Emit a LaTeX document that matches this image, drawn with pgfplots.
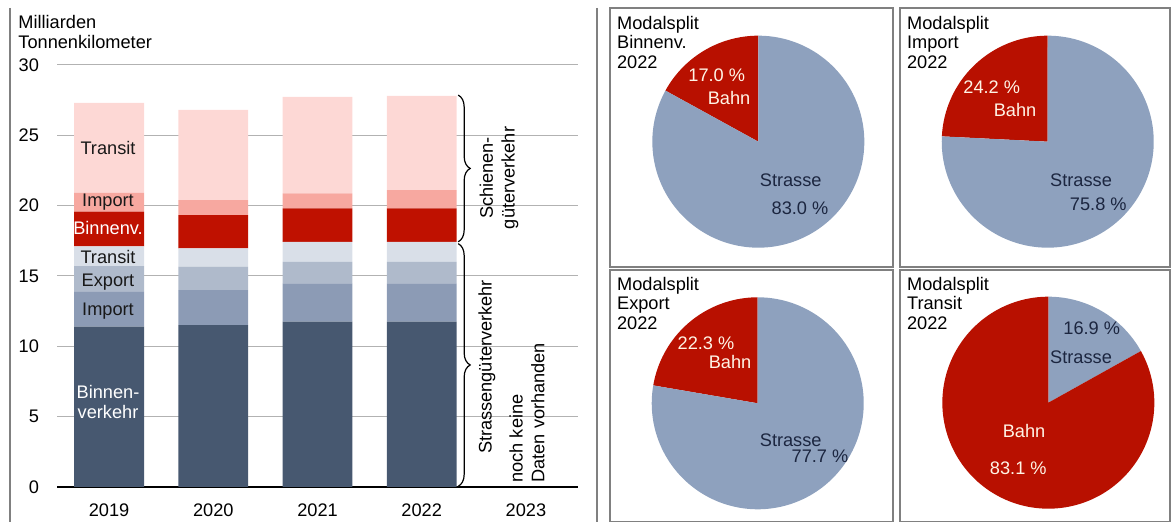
\documentclass[border=0pt]{standalone}
\usepackage{fontspec}
\setmainfont{Liberation Sans}
\usepackage{pgfplots}
\pgfplotsset{compat=1.18}
\usetikzlibrary{decorations.pathreplacing}

\definecolor{cRoadB}{HTML}{475870}
\definecolor{cRoadI}{HTML}{8C9BB5}
\definecolor{cRoadE}{HTML}{AFBACB}
\definecolor{cRoadT}{HTML}{D9DFE8}
\definecolor{cRailB}{HTML}{BF1100}
\definecolor{cRailI}{HTML}{F7A8A0}
\definecolor{cRailT}{HTML}{FDD8D5}
\definecolor{cPieRoad}{HTML}{8EA1BE}
\definecolor{cPieRail}{HTML}{B81000}
\definecolor{cNavy}{HTML}{1C2640}
\definecolor{cLight}{HTML}{FFF4E6}
\definecolor{cFrame}{HTML}{808080}

\begin{document}
\begin{tikzpicture}[x=0.5bp, y=0.5bp, font=\fontsize{9.1bp}{10.8bp}\selectfont]
\path[use as bounding box] (0,0) rectangle (1171,522);

% frames
\draw[cFrame, line width=0.6bp] (10,514) -- (10,0);
\draw[cFrame, line width=0.6bp] (597,514) -- (597,0);
\draw[cFrame, line width=0.6bp] (610,255) rectangle (893,514);
\draw[cFrame, line width=0.6bp] (900,255) rectangle (1170,514);
\draw[cFrame, line width=0.6bp] (610,0.5) rectangle (893,252);
\draw[cFrame, line width=0.6bp] (900,0.5) rectangle (1170,252);

% ---------- stacked bars ----------
\begin{axis}[
  at={(28.5bp,17.5bp)}, anchor=south west,
  width=260.5bp, height=211bp, scale only axis,
  ybar stacked, bar width=0.67,
  xmin=-0.5, xmax=4.5, ymin=0, ymax=30,
  xtick={0,1,2,3,4}, xticklabels={2019,2020,2021,2022,2023},
  ytick={0,5,10,15,20,25,30},
  axis line style={draw=none}, major tick length=0pt,
  ymajorgrids, grid style={black!30, line width=0.5bp},
  yticklabel style={xshift=-5.5bp},
  xticklabel style={yshift=-5bp},
  /pgf/number format/assume math mode=true,
  clip=false,
]
% Strasse
\addplot[fill=cRoadB, draw=none] coordinates {(0,11.4) (1,11.5) (2,11.75) (3,11.75)};
\addplot[fill=cRoadI, draw=none] coordinates {(0,2.5) (1,2.5) (2,2.73) (3,2.73)};
\addplot[fill=cRoadE, draw=none] coordinates {(0,1.8) (1,1.66) (2,1.52) (3,1.52)};
\addplot[fill=cRoadT, draw=none] coordinates {(0,1.4) (1,1.3) (2,1.43) (3,1.43)};
% Schiene
\addplot[fill=cRailB, draw=none] coordinates {(0,2.47) (1,2.37) (2,2.37) (3,2.37)};
\addplot[fill=cRailI, draw=none] coordinates {(0,1.33) (1,1.07) (2,1.07) (3,1.3)};
\addplot[fill=cRailT, draw=none] coordinates {(0,6.4) (1,6.4) (2,6.87) (3,6.7)};

\draw[black, line width=0.8bp] (axis cs:-0.5,0) -- (axis cs:4.5,0);

\draw[black, line width=0.6bp, decorate, decoration={brace, amplitude=6bp}]
  (axis cs:3.35,27.86) -- (axis cs:3.35,17.43);
\draw[black, line width=0.6bp, decorate, decoration={brace, amplitude=6bp}]
  (axis cs:3.35,17.3) -- (axis cs:3.35,0.05);
\end{axis}

% labels on the 2019 bar
\node[black!90] at (108,374) {Transit};
\node[black!90] at (108,320) {Import};
\node[white] at (108,294) {Binnenv.};
\node[black!90] at (108,265) {Transit};
\node[black!90] at (108,240) {Export};
\node[black!90] at (108,211) {Import};
\node[white, align=center, font=\fontsize{9.1bp}{9.8bp}\selectfont] at (108,120) {Binnen-\\verkehr};

\node[anchor=base west, inner sep=0] at (18,493.5) {Milliarden};
\node[anchor=base west, inner sep=0] at (18,473) {Tonnenkilometer};

\node[rotate=90, align=center] at (499,344) {Schienen-\\güterverkehr};
\node[rotate=90] at (487,155) {Strassengüterverkehr};
\node[rotate=90, align=left, anchor=west, inner sep=0] at (527,39) {noch keine\\Daten vorhanden};

% ---------- pies ----------
\begin{axis}[at={(379.15bp,190.15bp)}, anchor=center, width=106bp, height=106bp,
  scale only axis, hide axis, xmin=-1, xmax=1, ymin=-1, ymax=1]
\addplot[fill=cPieRail, draw=none, domain=90:90+3.6*17.0, samples=60] ({cos(x)},{sin(x)}) -- (0,0) -- cycle;
\addplot[fill=cPieRoad, draw=none, domain=90+3.6*17.0:450, samples=200] ({cos(x)},{sin(x)}) -- (0,0) -- cycle;
\end{axis}

\begin{axis}[at={(523.85bp,190.15bp)}, anchor=center, width=106bp, height=106bp,
  scale only axis, hide axis, xmin=-1, xmax=1, ymin=-1, ymax=1]
\addplot[fill=cPieRail, draw=none, domain=90:90+3.6*24.2, samples=60] ({cos(x)},{sin(x)}) -- (0,0) -- cycle;
\addplot[fill=cPieRoad, draw=none, domain=90+3.6*24.2:450, samples=200] ({cos(x)},{sin(x)}) -- (0,0) -- cycle;
\end{axis}

\begin{axis}[at={(378.85bp,59.35bp)}, anchor=center, width=106bp, height=106bp,
  scale only axis, hide axis, xmin=-1, xmax=1, ymin=-1, ymax=1]
\addplot[fill=cPieRail, draw=none, domain=90:90+3.6*22.3, samples=60] ({cos(x)},{sin(x)}) -- (0,0) -- cycle;
\addplot[fill=cPieRoad, draw=none, domain=90+3.6*22.3:450, samples=200] ({cos(x)},{sin(x)}) -- (0,0) -- cycle;
\end{axis}

\begin{axis}[at={(524.15bp,59.65bp)}, anchor=center, width=106bp, height=106bp,
  scale only axis, hide axis, xmin=-1, xmax=1, ymin=-1, ymax=1]
\addplot[fill=cPieRoad, draw=none, domain=90-3.6*16.9:90, samples=60] ({cos(x)},{sin(x)}) -- (0,0) -- cycle;
\addplot[fill=cPieRail, draw=none, domain=90:450-3.6*16.9, samples=200] ({cos(x)},{sin(x)}) -- (0,0) -- cycle;
\end{axis}

% pie titles
\foreach \px/\py/\name in {616.7/0/Binnenv., 906.7/0/Import, 616.7/261/Export, 906.7/261/Transit} {
  \node[anchor=base west, inner sep=0] at (\px,492.7-\py) {Modalsplit};
  \node[anchor=base west, inner sep=0] at (\px,473.2-\py) {\name};
  \node[anchor=base west, inner sep=0] at (\px,453.7-\py) {2022};
}

% pie labels
\node[cLight] at (716.7,447) {17.0 \%};
\node[cLight] at (729,424) {Bahn};
\node[cNavy] at (790.7,342) {Strasse};
\node[cNavy] at (800,314) {83.0 \%};

\node[cLight] at (991.7,435) {24.2 \%};
\node[cLight] at (1015,412) {Bahn};
\node[cNavy] at (1081,342) {Strasse};
\node[cNavy] at (1098.3,318) {75.8 \%};

\node[cLight] at (706,178.7) {22.3 \%};
\node[cLight] at (730,160.3) {Bahn};
\node[cNavy] at (790.7,82) {Strasse};
\node[cNavy] at (820,65.3) {77.7 \%};

\node[cNavy] at (1091.7,193.7) {16.9 \%};
\node[cNavy] at (1081,164.7) {Strasse};
\node[cLight] at (1024,91.3) {Bahn};
\node[cLight] at (1018.3,53.7) {83.1 \%};
\end{tikzpicture}
\end{document}
